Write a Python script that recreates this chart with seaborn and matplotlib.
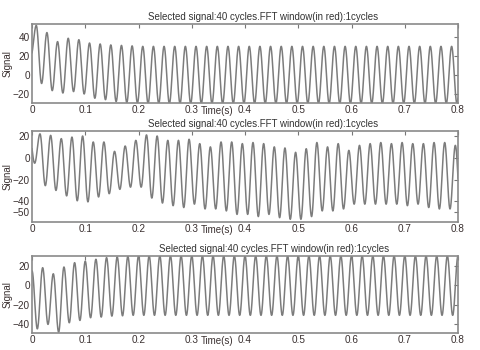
import numpy as np
import pandas as pd
import matplotlib
matplotlib.use("Agg")
import matplotlib.pyplot as plt
import seaborn as sns

# ---- data (per-cycle peaks / troughs, 50 Hz, 40 cycles) ----
title_text = "Selected signal:40 cycles.FFT window(in red):1cycles"
x_ticks = [0, 0.1, 0.2, 0.3, 0.4, 0.5, 0.6, 0.7, 0.8]
x_tick_labels = ["0", "0.1", "0.2", "0.3", "0.4", "0.5", "0.6", "0.7", "0.8"]

top_peaks = [52, 44.5, 35, 38.5, 37, 33.5, 32.5, 31.5, 31, 30.5,
             30, 30, 30, 30, 30, 30, 30, 30, 30, 30,
             30, 30, 30, 30, 30, 30, 30, 30, 30, 30,
             30, 30, 30, 30, 30, 30, 30, 30, 30, 30]
top_troughs = [-9, -16.5, -19, -17.5, -20, -24.5, -26, -28, -29, -29.5,
               -30, -30, -30, -30, -30, -30, -30, -30, -30, -30,
               -30, -30, -30, -30, -30, -30, -30, -30, -30, -30,
               -30, -30, -30, -30, -30, -30, -30, -30, -30, -30]
top_start = 20
top_yticks = [-20, 0, 20, 40]

mid_peaks = [22, 20.6, 17.6, 19, 20, 14.5, 14.5, 5.9, 10.8, 16,
             21, 20, 16, 16, 17, 13, 10, 14.5, 14.5, 13,
             14, 13, 10, 9, 5, 8.3, 14, 10, 13, 6.8,
             11.4, 13, 14, 13, 14, 13, 13, 14, 14, 11.4]
mid_troughs = [-25.6, -30, -35, -39.5, -40.5, -36, -33, -29, -27, -27,
               -37, -41.6, -44, -45.7, -42.6, -47, -47, -48.8, -52, -52,
               -54, -52, -55, -56.5, -56.5, -54, -48.8, -48.8, -47, -42.6,
               -42.6, -42.6, -42.6, -42.6, -44, -42.6, -45.7, -47, -47, -49.7]
mid_start = -5
mid_yticks = [-50, -40, -20, 0, 20]

bot_peaks = [15, 18.3, 12, 19, 23.5, 25, 27, 28.7, 29.4, 30,
             30.5, 30.5, 30.5, 30.5, 30.5, 30.5, 30.5, 30.5, 30.5, 30.5,
             30.5, 30.5, 30.5, 30.5, 30.5, 30.5, 30.5, 30.5, 30.5, 30.5,
             30.5, 30.5, 30.5, 30.5, 30.5, 30.5, 30.5, 30.5, 30.5, 30.5]
bot_troughs = [-45, -40.4, -48.4, -38.7, -36.3, -33.5, -32.8, -31.8, -31.5, -31,
               -31, -31, -31, -31, -31, -31, -31, -31, -31, -31,
               -31, -31, -31, -31, -31, -31, -31, -31, -31, -31,
               -31, -31, -31, -31, -31, -31, -31, -31, -31, -31]
bot_start = -40
bot_yticks = [-40, -20, 0, 20]

PERIOD = 0.02


def waveform(first_peak_time, start, peaks, troughs):
    ext = np.array([start] + [v for pair in zip(peaks, troughs) for v in pair], float)
    times = first_peak_time - PERIOD / 2 + PERIOD / 2 * np.arange(len(ext))
    t = np.linspace(0, 0.8, 4001)
    idx = np.clip(np.searchsorted(times, t, side="right") - 1, 0, len(ext) - 2)
    frac = (t - times[idx]) / (PERIOD / 2)
    w = (1 - np.cos(np.pi * frac)) / 2
    y = ext[idx] + (ext[idx + 1] - ext[idx]) * w
    return pd.DataFrame({"Time(s)": t, "Signal": y})


panels = [
    dict(df=waveform(0.008, top_start, top_peaks, top_troughs), ylim=(-29.5, 53.5),
         yticks=top_yticks, rect=[32 / 480, 1 - 103 / 350, 426 / 480, 79 / 350], tx=0.542),
    dict(df=waveform(0.015, mid_start, mid_peaks, mid_troughs), ylim=(-59, 24.6),
         yticks=mid_yticks, rect=[32 / 480, 1 - 222 / 350, 426 / 480, 91 / 350], tx=0.542),
    dict(df=waveform(0.0, bot_start, bot_peaks, bot_troughs), ylim=(-49.3, 30.4),
         yticks=bot_yticks, rect=[32 / 480, 1 - 333 / 350, 426 / 480, 77 / 350], tx=0.568),
]

sns.set_style("white")
plt.rcParams["font.family"] = ["Liberation Sans", "DejaVu Sans"]

fig = plt.figure(figsize=(4.8, 3.5), dpi=100)
text_col = "#3a3030"
for p in panels:
    ax = fig.add_axes(p["rect"])
    sns.lineplot(data=p["df"], x="Time(s)", y="Signal", ax=ax, color="#7c7c7c",
                 linewidth=1.1, estimator=None, sort=False)
    ax.set_xlim(0, 0.8)
    ax.set_ylim(*p["ylim"])
    ax.set_xticks(x_ticks)
    ax.set_xticklabels(x_tick_labels)
    ax.set_yticks(p["yticks"])
    ax.tick_params(direction="in", length=3, width=0.8, color="#777777",
                   labelsize=7.2, labelcolor=text_col, pad=1.5,
                   top=True, right=True)
    for s in ax.spines.values():
        s.set_color("#8a8a8a")
        s.set_linewidth(1.2)
    ax.set_xlabel("")
    ax.set_ylabel("Signal", fontsize=7, color=text_col)
    ax.yaxis.label.set_va("center")
    ax.yaxis.set_label_coords(-0.057, 0.5)
    ax.annotate("Time(s)", xy=(0.435, 0), xycoords="axes fraction",
                xytext=(0, -5.5), textcoords="offset points",
                ha="center", va="center", fontsize=7, color=text_col)
    ax.set_title(title_text, fontsize=7, color="#333333", x=p["tx"], pad=3)

fig.savefig("out.png", dpi=100, facecolor="white")
